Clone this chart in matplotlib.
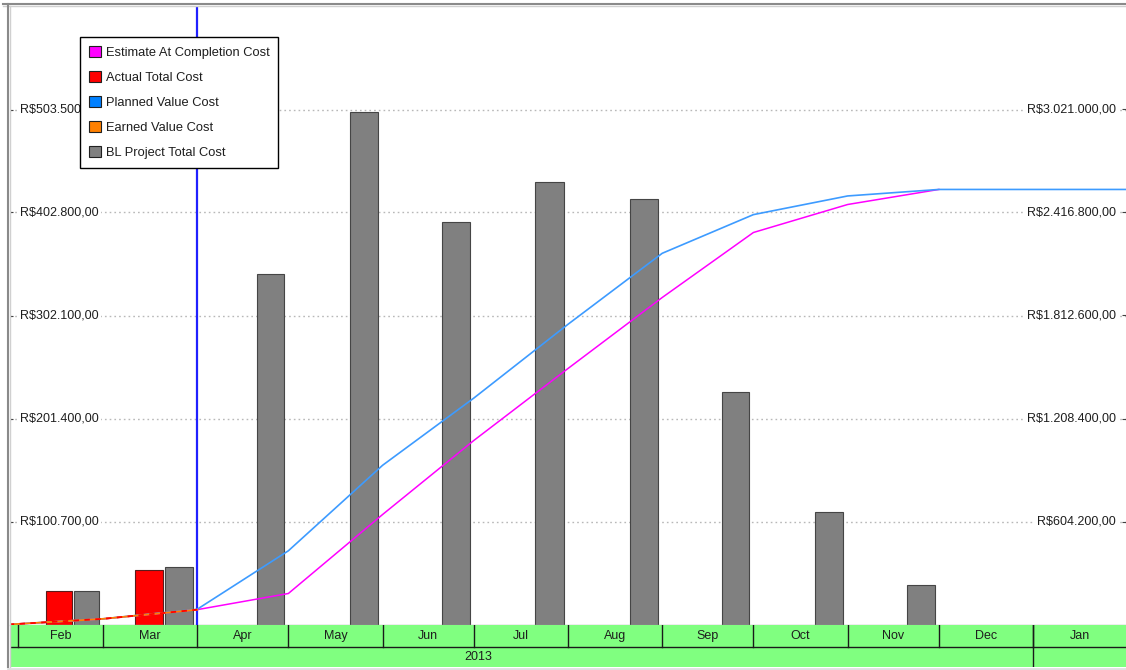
import datetime as dt

import matplotlib
matplotlib.use("Agg")
import matplotlib.pyplot as plt
import matplotlib.dates as mdates
import matplotlib.transforms as mtransforms
from matplotlib.patches import Patch
from matplotlib.lines import Line2D
import numpy as np

plt.rcParams['font.family'] = ['Liberation Sans', 'DejaVu Sans']

# ---------------------------------------------------------------- data
# monthly costs (left axis)
bar_months = ["2013-02", "2013-03", "2013-04", "2013-05", "2013-06",
              "2013-07", "2013-08", "2013-09", "2013-10", "2013-11"]
bl_total_cost = [33240, 56020, 343160, 501540, 394000,
                 433100, 416480, 226820, 109500, 38130]
actual_months = ["2013-02", "2013-03"]
actual_total_cost = [33240, 53770]

# cumulative curves (right axis)
planned_dates = ["2013-01-29", "2013-03-01", "2013-04-01", "2013-05-01",
                 "2013-06-01", "2013-07-01", "2013-08-01", "2013-09-01",
                 "2013-10-01", "2013-11-01", "2013-12-01", "2014-02-01"]
planned_value = [0, 33240, 89260, 432420, 933960, 1327960, 1761060,
                 2177540, 2404360, 2513860, 2551990, 2551990]

eac_dates = ["2013-01-29", "2013-03-01", "2013-04-01", "2013-05-01",
             "2013-06-01", "2013-07-01", "2013-08-01", "2013-09-01",
             "2013-10-01", "2013-11-01", "2013-12-01"]
eac_value = [0, 33240, 87010, 181850, 645260, 1079350, 1501700,
             1918200, 2299500, 2463700, 2551990]

ev_dates = ["2013-01-29", "2013-03-01", "2013-04-01"]
earned_value = [0, 33240, 87010]
actual_cum = [0, 33240, 87010]

status_date = "2013-04-01"

left_ticks = [100700, 201400, 302100, 402800, 503500]
right_ticks = [604200, 1208400, 1812600, 2416800, 3021000]
left_max = 604200
right_max = 3625200

timeline_months = ["2013-01", "2013-02", "2013-03", "2013-04", "2013-05",
                   "2013-06", "2013-07", "2013-08", "2013-09", "2013-10",
                   "2013-11", "2013-12", "2014-01", "2014-02"]
month_names = ["Jan", "Feb", "Mar", "Apr", "May", "Jun", "Jul", "Aug",
               "Sep", "Oct", "Nov", "Dec", "Jan", "Feb"]
years = ["2013", "2014"]

legend_labels = ["Estimate At Completion Cost", "Actual Total Cost",
                 "Planned Value Cost", "Earned Value Cost",
                 "BL Project Total Cost"]

# ---------------------------------------------------------------- styles
C_EAC = "#FF00FF"
C_ACT = "#FF0000"
C_PV = "#3D9BFF"
C_PV_LEG = "#0080FF"
C_EV = "#FF8000"
C_BL = "#808080"
C_BAND = "#80FF80"
TXT = "#1e1e1e"


def d(s):
    return mdates.date2num(dt.datetime.fromisoformat(s))


def month_start(s):
    y, m = map(int, s.split("-"))
    return dt.datetime(y, m, 1)


def month_span(s):
    start = month_start(s)
    nxt = dt.datetime(start.year + (start.month == 12), start.month % 12 + 1, 1)
    return mdates.date2num(start), (nxt - start).days


def brl(v):
    s = f"{v:,.2f}"
    s = s.replace(",", "X").replace(".", ",").replace("X", ".")
    return "R$" + s


W, H, DPI = 1126, 670, 100
fig = plt.figure(figsize=(W / DPI, H / DPI), dpi=DPI, facecolor="white")


def fx(px):
    return px / W


def fy(py):
    return 1 - py / H


x0 = mdates.date2num(dt.datetime(2013, 1, 29, 10))
x1 = mdates.date2num(dt.datetime(2014, 1, 31, 14))

# ---------------------------------------------------------------- main axes
ax = fig.add_axes([fx(10), fy(624.5), fx(1116), (624.5 - 6.5) / H])
ax.set_xlim(x0, x1)
ax.set_ylim(0, left_max)
for sp in ax.spines.values():
    sp.set_visible(False)
ax.spines["bottom"].set_visible(True)
ax.spines["bottom"].set_color("#a8a8a8")
ax.spines["bottom"].set_linewidth(1.0)
ax.set_xticks([])
ax.set_yticks(left_ticks)
ax.set_yticklabels([])
ax.tick_params(axis="y", direction="in", length=2.5, width=0.8, color="#404040")
for t in left_ticks:
    ax.axhline(t, color="#b8b8b8", lw=1.0, linestyle=(0, (1.2, 2.2)), zorder=0.5)

# monthly bars
for m, v in zip(bar_months, bl_total_cost):
    s, n = month_span(m)
    ax.bar(s + 0.655 * n, v, width=0.30 * n, align="edge", color=C_BL,
           edgecolor="#454545", linewidth=0.8, zorder=2)
for m, v in zip(actual_months, actual_total_cost):
    s, n = month_span(m)
    ax.bar(s + 0.335 * n, v, width=0.30 * n, align="edge", color=C_ACT,
           edgecolor="#5a1a1a", linewidth=0.8, zorder=2)

# status date
ax.axvline(d(status_date), color="#2020FF", lw=1.6, zorder=3)

# left tick labels (inside the plot)
tr_l = mtransforms.blended_transform_factory(ax.transAxes, ax.transData)
for t in left_ticks:
    ax.text(10 / 1116, t, brl(t), transform=tr_l, ha="left", va="center",
            fontsize=9, color=TXT, zorder=4,
            bbox=dict(facecolor="white", edgecolor="none", pad=1.5))

# ---------------------------------------------------------------- right axis
ax2 = ax.twinx()
ax2.set_ylim(0, right_max)
for sp in ax2.spines.values():
    sp.set_visible(False)
ax2.set_yticks(right_ticks)
ax2.set_yticklabels([])
ax2.tick_params(axis="y", direction="in", length=3, width=0.8, color="#404040", pad=0)

ax2.plot([d(s) for s in eac_dates], eac_value, color=C_EAC, lw=1.1, zorder=3)
ax2.plot([d(s) for s in planned_dates], planned_value, color=C_PV, lw=1.2, zorder=3)
ax2.plot([d(s) for s in ev_dates], earned_value, color=C_EV, lw=1.3, zorder=3)
ax2.plot([d(s) for s in ev_dates], actual_cum, color=C_ACT, lw=1.3,
         linestyle=(0, (3, 3)), zorder=3)

tr_r = mtransforms.blended_transform_factory(ax2.transAxes, ax2.transData)
for t in right_ticks:
    ax2.text(1105.5 / 1116, t, brl(t), transform=tr_r, ha="right", va="center",
             fontsize=9, color=TXT, zorder=4,
             bbox=dict(facecolor="white", edgecolor="none", pad=1.5))

# legend
handles = [Patch(facecolor=c, edgecolor="#202020", linewidth=0.8)
           for c in (C_EAC, C_ACT, C_PV_LEG, C_EV, C_BL)]
leg = ax2.legend(handles, legend_labels, loc="upper left",
                 bbox_to_anchor=(fx(80), fy(37)), bbox_transform=fig.transFigure,
                 borderaxespad=0, fontsize=9.3, frameon=True, fancybox=False,
                 framealpha=1, edgecolor="black", handlelength=0.95,
                 handleheight=0.95, handletextpad=0.33, labelspacing=0.92,
                 borderpad=0.7)
leg.get_frame().set_linewidth(1.0)
leg.set_zorder(10)
for txt in leg.get_texts():
    txt.set_color(TXT)

# ---------------------------------------------------------------- timeline band
band = fig.add_axes([fx(10), fy(667), fx(1116), 42 / H])
band.set_xlim(x0, x1)
band.set_ylim(0, 42)
band.set_facecolor(C_BAND)
band.set_xticks([])
band.set_yticks([])
for sp in band.spines.values():
    sp.set_visible(False)
band.axhline(20, color="#1a1a1a", lw=1.0)
for m, name in zip(timeline_months, month_names):
    s, n = month_span(m)
    band.plot([s, s], [20, 42], color="#1a1a1a", lw=1.0)
    c = s + n / 2
    if x0 < c < x1:
        band.text(c, 31, name, ha="center", va="center", fontsize=9, color=TXT)
for y in years:
    s = mdates.date2num(dt.datetime(int(y), 1, 1))
    e = mdates.date2num(dt.datetime(int(y) + 1, 1, 1))
    band.plot([s, s], [0, 42], color="#1a1a1a", lw=1.0)
    c = (s + e) / 2
    if x0 < c < x1:
        band.text(c, 10, y, ha="center", va="center", fontsize=9, color=TXT)

# ---------------------------------------------------------------- frame
fig.add_artist(Line2D([fx(3), fx(1126)], [fy(4), fy(4)], color="#8a8a8a", lw=1.5))
fig.add_artist(Line2D([fx(3), fx(1126)], [fy(6), fy(6)], color="#d0d0d0", lw=1.0))
fig.add_artist(Line2D([fx(8), fx(8)], [fy(4), fy(667)], color="#8a8a8a", lw=1.5))
fig.add_artist(Line2D([fx(9.8), fx(9.8)], [fy(6), fy(667)], color="#d0d0d0", lw=1.0))
fig.add_artist(Line2D([fx(8), fx(1126)], [fy(668.5), fy(668.5)], color="#e0e0e0", lw=2))

fig.savefig("out.png", dpi=DPI, facecolor="white")
